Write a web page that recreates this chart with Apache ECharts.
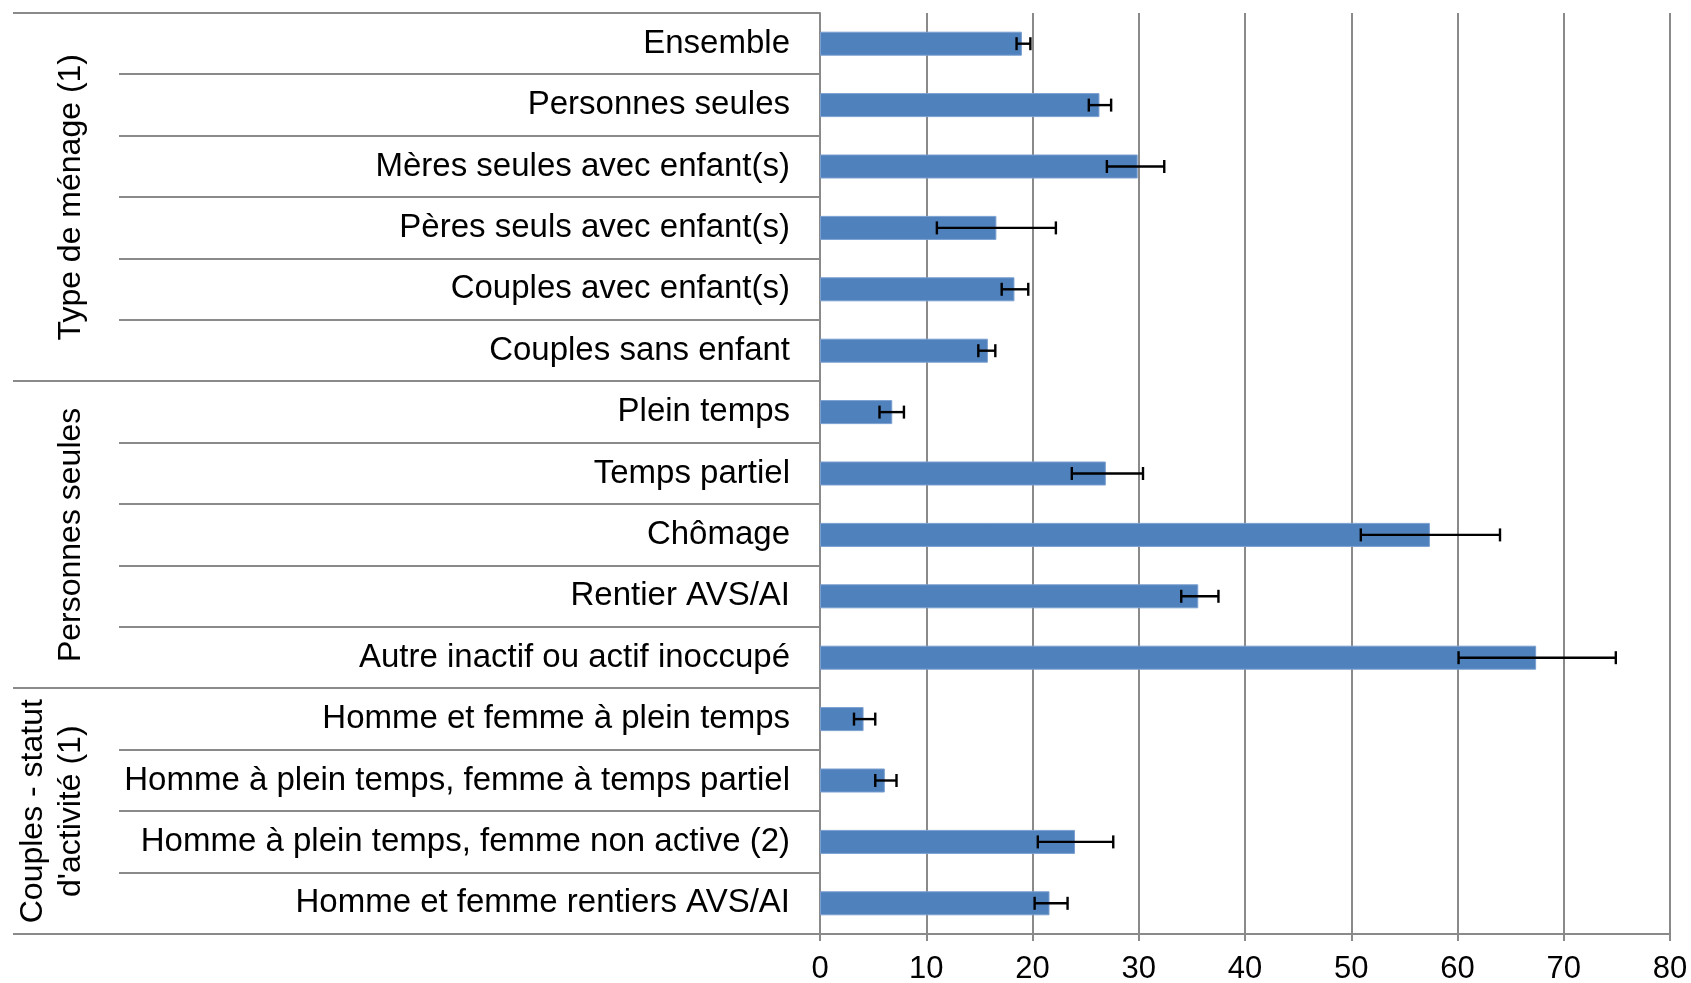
<!DOCTYPE html>
<html>
<head>
    <meta charset="UTF-8">
    <title>ECharts</title>
    <script src="https://cdn.jsdelivr.net/npm/echarts@6/dist/echarts.min.js"></script>
    <style>
        html, body { margin: 0; padding: 0; width: 100%; height: 100%; background: #fff; }
        #main { width: 1691px; height: 983px; }
    </style>
</head>
<body>
    <div id="main"></div>
    <script type="text/javascript">
        var categories = [
            'Ensemble', 'Personnes seules', 'Mères seules avec enfant(s)', 'Pères seuls avec enfant(s)',
            'Couples avec enfant(s)', 'Couples sans enfant',
            'Plein temps', 'Temps partiel', 'Chômage', 'Rentier AVS/AI', 'Autre inactif ou actif inoccupé',
            'Homme et femme à plein temps', 'Homme à plein temps, femme à temps partiel',
            'Homme à plein temps, femme non active (2)', 'Homme et femme rentiers AVS/AI'
        ];
        var values  = [19.0, 26.3, 29.9, 16.6, 18.3, 15.8, 6.8, 26.9, 57.4, 35.6, 67.4, 4.1, 6.1, 24.0, 21.6];
        var errLow  = [18.5, 25.3, 27.0, 11.0, 17.1, 14.9, 5.6, 23.7, 50.9, 34.0, 60.1, 3.2, 5.2, 20.5, 20.2];
        var errHigh = [19.8, 27.4, 32.4, 22.2, 19.6, 16.5, 7.9, 30.4, 64.0, 37.5, 74.9, 5.2, 7.2, 27.6, 23.3];

        // groupes de lignes (titre, nombre de lignes)
        var groups = ['Type de ménage (1)', 'Personnes seules', "Couples - statut\nd'activité (1)"];
        var groupSizes = [6, 5, 4];

        var font = "'Liberation Sans', Arial, sans-serif";
        var grey = '#8a8a8a';

        var errData = values.map(function (v, i) { return [i, errLow[i], errHigh[i]]; });

        // début de chaque groupe
        var starts = [0];
        groupSizes.forEach(function (n, g) { starts.push(starts[g] + n); });
        var rowData = categories.map(function (c, i) { return [0, i]; });
        var groupData = groups.map(function (g, i) { return [0, starts[i], groupSizes[i]]; });

        var myChart = echarts.init(document.getElementById('main'));

        var option = {
            backgroundColor: '#fff',
            animation: false,
            grid: { left: 820, right: 21, top: 13, bottom: 49, outerBoundsMode: 'none', containLabel: false },
            xAxis: {
                type: 'value',
                min: 0, max: 80, interval: 10,
                axisLine: { show: true, lineStyle: { color: grey, width: 2 } },
                axisTick: { show: true, length: 7, lineStyle: { color: grey, width: 2 } },
                axisLabel: { color: '#000', fontFamily: font, fontSize: 31, margin: 20 },
                splitLine: { show: true, lineStyle: { color: grey, width: 2 } }
            },
            yAxis: {
                type: 'category',
                inverse: true,
                data: categories,
                axisLine: { show: true, lineStyle: { color: grey, width: 2 } },
                axisTick: { show: false },
                axisLabel: { color: '#000', fontFamily: font, fontSize: 33, margin: 30 }
            },
            series: [
                {
                    type: 'bar',
                    data: values,
                    barWidth: 24,
                    itemStyle: { color: '#4F81BD', borderColor: '#7a9fd0', borderWidth: 1 }
                },
                {
                    // barres d'erreur
                    type: 'custom',
                    data: errData,
                    z: 5,
                    renderItem: function (params, api) {
                        var idx = api.value(0);
                        var a = api.coord([api.value(1), idx]);
                        var b = api.coord([api.value(2), idx]);
                        var h = 6.5;
                        var st = { stroke: '#000', lineWidth: 2.4 };
                        return {
                            type: 'group',
                            children: [
                                { type: 'line', shape: { x1: a[0], y1: a[1], x2: b[0], y2: b[1] }, style: st },
                                { type: 'line', shape: { x1: a[0], y1: a[1] - h, x2: a[0], y2: a[1] + h }, style: st },
                                { type: 'line', shape: { x1: b[0], y1: b[1] - h, x2: b[0], y2: b[1] + h }, style: st }
                            ]
                        };
                    }
                },
                {
                    // lignes du tableau à gauche
                    type: 'custom',
                    data: rowData,
                    clip: false,
                    silent: true,
                    renderItem: function (params, api) {
                        var i = api.value(1);
                        var c = api.coord([0, i]);
                        var band = api.size([0, 1])[1];
                        var lines = [];
                        var yb = Math.round(c[1] + band / 2);
                        var xb = starts.indexOf(i + 1) >= 0 ? 13 : 119;
                        lines.push({ type: 'line', shape: { x1: xb, y1: yb, x2: c[0], y2: yb },
                            style: { stroke: grey, lineWidth: 2 } });
                        if (i === 0) {
                            var yt = Math.round(c[1] - band / 2);
                            lines.push({ type: 'line', shape: { x1: 13, y1: yt, x2: c[0], y2: yt },
                                style: { stroke: grey, lineWidth: 2 } });
                        }
                        return { type: 'group', children: lines };
                    }
                },
                {
                    // titres des groupes, verticaux
                    type: 'custom',
                    data: groupData,
                    clip: false,
                    silent: true,
                    renderItem: function (params, api) {
                        var s = api.value(1), n = api.value(2);
                        var c = api.coord([0, s]);
                        var band = api.size([0, 1])[1];
                        var yMid = c[1] - band / 2 + n * band / 2;
                        var name = groups[params.dataIndex];
                        var twoLines = name.indexOf('\n') >= 0;
                        return {
                            type: 'text',
                            x: twoLines ? 52 : 71,
                            y: yMid,
                            rotation: Math.PI / 2,
                            style: {
                                text: name,
                                fill: '#000',
                                font: '32px ' + font,
                                align: 'center',
                                verticalAlign: 'middle',
                                lineHeight: 38
                            }
                        };
                    }
                }
            ]
        };
        myChart.setOption(option);
    </script>
</body>
</html>
